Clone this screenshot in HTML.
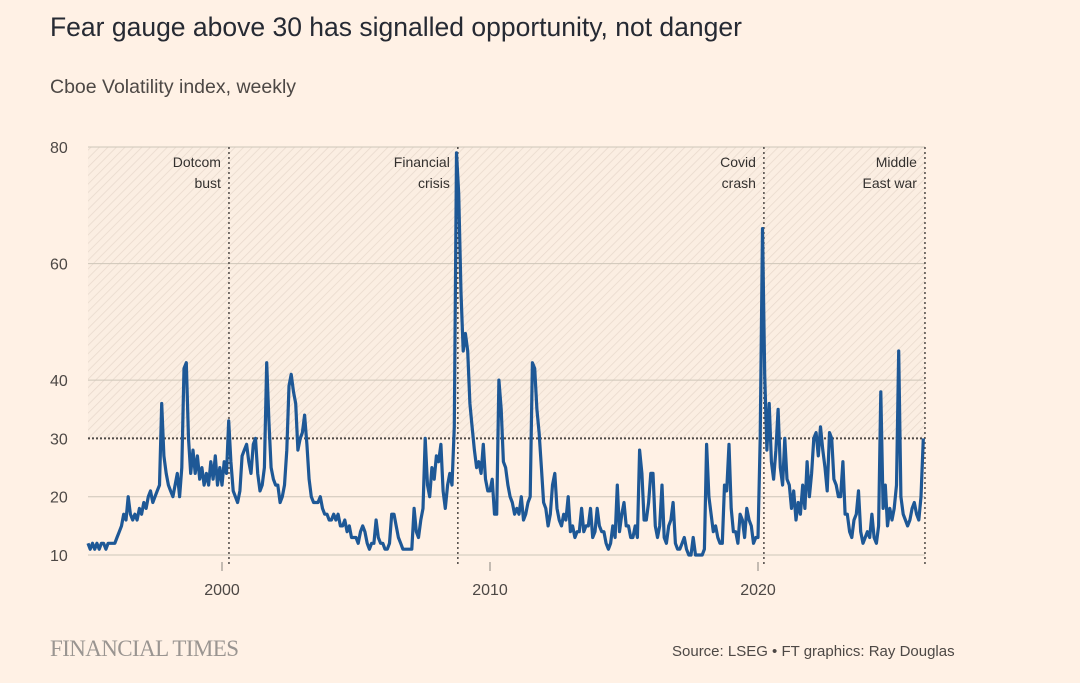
<!DOCTYPE html>
<html><head><meta charset="utf-8"><style>
html,body{margin:0;padding:0;background:#fff1e5;}
body{width:1080px;height:683px;position:relative;overflow:hidden;font-family:"Liberation Sans",sans-serif;color:#33302e;}
.t{position:absolute;white-space:nowrap;}
</style></head><body>
<div class="t" style="left:50px;top:12px;font-size:26.5px;color:#262a33;">Fear gauge above 30 has signalled opportunity, not danger</div>
<div class="t" style="left:50px;top:76px;font-size:19.5px;color:#4d4845;">Cboe Volatility index, weekly</div>
<svg id="chart" width="1080" height="683" style="position:absolute;left:0;top:0" xmlns="http://www.w3.org/2000/svg">
<defs><pattern id="hatch" patternUnits="userSpaceOnUse" width="6" height="6" patternTransform="rotate(45)"><rect width="6" height="6" fill="#fbeee2"/><line x1="0" y1="0" x2="0" y2="6" stroke="#e8d9cc" stroke-width="1.5"/></pattern></defs>
</svg>
<div class="t" style="left:50px;top:636px;font-family:'Liberation Serif',serif;font-size:23px;color:#9a9591;letter-spacing:-0.6px;">FINANCIAL TIMES</div>
<div class="t" style="left:672px;top:643px;font-size:15px;color:#4d4845;">Source: LSEG • FT graphics: Ray Douglas</div>
<script>
const startYear = 1995;
const vix = [
12,11,12,11,12,11,12,12,11,12,12,12,
12,13,14,15,17,16,20,17,16,17,16,18,
17,19,18,20,21,19,20,21,22,36,27,24,
22,21,20,22,24,20,25,42,43,30,24,28,
24,27,23,25,22,24,22,26,23,27,22,25,
22,26,24,33,26,21,20,19,21,27,28,29,
26,24,29,30,24,21,22,25,43,33,25,23,
22,22,19,20,22,28,39,41,38,36,28,30,
31,34,29,23,20,19,19,19,20,18,17,17,
16,16,17,16,17,15,15,16,14,15,13,13,
13,12,14,15,14,12,11,12,12,16,13,12,
12,11,11,12,17,17,15,13,12,11,11,11,
11,11,18,14,13,16,18,30,22,20,25,23,
27,26,29,21,18,22,24,22,32,79,72,55,
45,48,45,36,32,28,25,26,24,29,23,21,
21,23,17,17,40,35,26,25,22,20,19,17,
18,17,20,16,17,19,20,43,42,35,31,25,
19,18,15,17,22,24,18,16,15,17,16,20,
14,15,13,14,14,18,14,15,15,18,13,14,
18,15,14,14,12,11,12,15,13,22,14,17,
19,15,15,13,13,15,13,28,24,16,16,19,
24,24,15,13,15,22,13,12,15,16,19,12,
11,11,12,13,11,10,10,13,10,10,10,10,
11,29,20,17,14,15,13,12,12,22,21,29,
18,14,14,12,17,16,13,18,16,15,12,13,
13,30,66,41,28,36,26,23,28,35,25,22,
30,23,22,18,21,16,19,17,22,18,26,20,
24,30,31,27,32,28,25,21,31,30,23,22,
20,20,26,17,17,14,13,16,17,21,14,12,
13,14,13,17,13,12,15,38,18,22,15,18,
16,18,22,45,20,17,16,15,16,18,19,17,
16,20,30];
const yTicks = [10,20,30,40,60,80];
const xTicks = [2000,2010,2020];
const events = [2000.26, 2008.8, 2020.22, 2026.23];
const eventLabels = [["Dotcom","bust"],["Financial","crisis"],["Covid","crash"],["Middle","East war"]];
const threshold = 30;

const L=88,R=925,T=147,B=555;
const x = yr => 222 + (yr-2000)*26.8;
const y = v => B - (v-10)*(B-T)/70;
const svg = document.getElementById('chart');
const NS='http://www.w3.org/2000/svg';
function mk(tag, attrs){const e=document.createElementNS(NS,tag);for(const k in attrs)e.setAttribute(k,attrs[k]);svg.appendChild(e);return e;}

const hz = mk('rect',{x:L,y:y(80),width:R-L,height:y(threshold)-y(80),fill:'url(#hatch)'});



yTicks.forEach(v=>{
  if(v===threshold) return;
  const g = mk('line',{x1:L,x2:R,y1:y(v),y2:y(v),stroke:'#cec6b9','stroke-width':1});
  
  
});
yTicks.forEach(v=>{
  const t = mk('text',{x:50,y:y(v)+6,'font-size':16,fill:'#4d4845','font-family':'Liberation Sans, sans-serif'});
  t.textContent=v;
  
  
});
xTicks.forEach(yr=>{
  const tk = mk('line',{x1:x(yr),x2:x(yr),y1:B+7,y2:B+16,stroke:'#8a8580','stroke-width':1});
  
  
  const t = mk('text',{x:x(yr),y:B+40,'font-size':16,fill:'#4d4845','text-anchor':'middle','font-family':'Liberation Sans, sans-serif'});
  t.textContent=yr;
  
  
});
events.forEach((yr,i)=>{
  const l = mk('line',{x1:x(yr),x2:x(yr),y1:T,y2:B+12,stroke:'#4d4845','stroke-width':1.5,'stroke-dasharray':'2,3'});
  
  
  eventLabels[i].forEach((s,j)=>{
    const t = mk('text',{x:x(yr)-8,y:T+20+j*21,'font-size':14,fill:'#33302e','text-anchor':'end','font-family':'Liberation Sans, sans-serif'});
    t.textContent=s;
    
    
  });
});
const th = mk('line',{x1:L,x2:R,y1:y(threshold),y2:y(threshold),stroke:'#4d4845','stroke-width':2,'stroke-dasharray':'2,2'});



const pts = vix.map((v,i)=>x(startYear+i/12).toFixed(1)+','+y(v).toFixed(1)).join(' ');
const line = mk('polyline',{points:pts,fill:'none',stroke:'#1e5896','stroke-width':3.2,'stroke-linejoin':'round'});


</script>
</body></html>
